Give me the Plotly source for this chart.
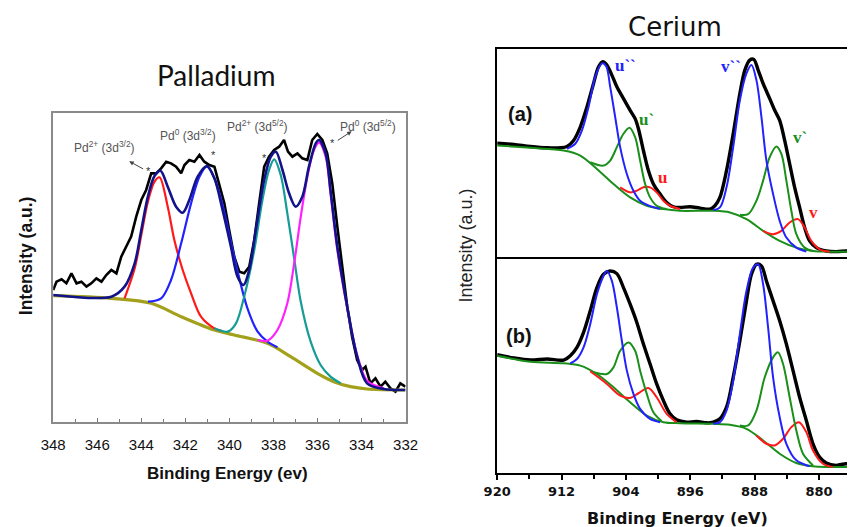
import plotly.graph_objects as go

# ---------------- Palladium (binding energy eV, intensity a.u.) ----------------
pd_raw_x = [348.00, 347.85, 347.62, 347.40, 347.17, 346.94, 346.72, 346.49, 346.27, 346.04,
            345.81, 345.59, 345.36, 345.13, 344.91, 344.68, 344.46, 344.23, 344.00, 343.78,
            343.55, 343.32, 343.10, 342.87, 342.65, 342.42, 342.19, 342.04, 341.82, 341.59,
            341.36, 341.14, 340.91, 340.68, 340.46, 340.23, 340.01, 339.78, 339.55, 339.33,
            339.10, 338.87, 338.65, 338.42, 338.20, 337.97, 337.74, 337.52, 337.34, 337.14,
            336.91, 336.69, 336.46, 336.24, 336.01, 335.78, 335.56, 335.33, 335.10, 334.88,
            334.65, 334.43, 334.20, 333.97, 333.82, 333.60, 333.37, 333.14, 332.92, 332.69,
            332.46, 332.24, 332.01]
pd_raw_y = [396, 421, 428, 416, 446, 416, 421, 406, 416, 431,
            421, 441, 456, 446, 496, 526, 556, 616, 666, 696,
            746, 746, 761, 781, 776, 766, 746, 771, 786, 781,
            801, 781, 771, 766, 716, 656, 576, 496, 451, 446,
            466, 546, 656, 766, 796, 816, 826, 846, 811, 796,
            806, 791, 786, 846, 864, 846, 806, 716, 586, 466,
            346, 256, 186, 156, 166, 116, 131, 106, 121, 101,
            91, 116, 106]

pd_env_x = [348.00, 345.36, 344.76, 344.30, 344.00, 343.70, 343.40, 343.13, 342.80, 342.42,
            342.12, 341.82, 341.44, 341.02, 340.68, 340.31, 339.93, 339.63, 339.36, 339.10,
            338.80, 338.42, 338.12, 337.89, 337.59, 337.29, 336.99, 336.69, 336.39, 336.08,
            335.93, 335.63, 335.41, 335.10, 334.65, 334.20, 333.75, 332.99, 332.01]
pd_env_y = [381, 376, 406, 476, 576, 676, 738, 754, 706, 646,
            628, 666, 736, 768, 731, 636, 526, 436, 411, 456,
            576, 726, 796, 811, 756, 686, 646, 676, 766, 836,
            846, 806, 696, 526, 346, 196, 116, 99, 96]

pd_red_x = [344.76, 344.30, 344.00, 343.70, 343.40, 343.17, 342.80, 342.50, 342.12, 341.74,
            341.29, 340.68, 340.38]
pd_red_y = [371, 461, 561, 661, 721, 734, 646, 546, 456, 386, 316, 281, 274]

pd_blue_x = [343.70, 343.10, 342.65, 342.19, 341.74, 341.36, 341.02, 340.68, 340.31, 339.93,
             339.55, 339.18, 338.72, 338.27, 337.82]
pd_blue_y = [361, 371, 426, 536, 656, 736, 766, 731, 651, 541, 431, 341, 271, 241, 224]

pd_teal_x = [340.68, 340.08, 339.70, 339.33, 338.87, 338.50, 338.20, 337.97, 337.67, 337.37,
             337.06, 336.76, 336.31, 335.86, 335.41, 334.95]
pd_teal_y = [281, 271, 296, 376, 516, 666, 756, 788, 741, 626, 491, 361, 241, 171, 136, 116]

pd_mag_x = [338.72, 338.27, 337.82, 337.37, 337.06, 336.76, 336.46, 336.16, 335.93, 335.63,
            335.41, 335.10, 334.65, 334.20, 333.75, 332.99]
pd_mag_y = [246, 244, 276, 356, 476, 616, 736, 816, 838, 796, 686, 516, 341, 201, 124, 101]

pd_bg_x = [348.00, 345.36, 343.55, 342.19, 340.68, 339.78, 338.27, 337.22, 336.01, 335.26,
           334.50, 333.75, 332.01]
pd_bg_y = [379, 371, 356, 316, 276, 261, 236, 196, 146, 121, 106, 99, 96]

pd_ticks = [348, 346, 344, 342, 340, 338, 336, 334, 332]
pd_labels = ["Pd<sup>2+</sup> (3d<sup>3/2</sup>)", "Pd<sup>0</sup> (3d<sup>3/2</sup>)",
             "Pd<sup>2+</sup> (3d<sup>5/2</sup>)", "Pd<sup>0</sup> (3d<sup>5/2</sup>)"]
pd_label_x = [345.68, 341.88, 338.71, 333.73]
pd_label_y = [825, 861, 888, 888]
pd_star_x = [343.69, 340.70, 338.39, 335.32]
pd_star_y = [753, 801, 792, 837]

# ---------------- Cerium (a) ----------------
ca_raw_x = [920.00, 917.93, 915.87, 913.80, 912.15, 911.32, 910.50, 909.67, 908.84, 908.02,
            907.40, 906.86, 906.36, 905.74, 905.12, 904.30, 903.47, 902.85, 902.44, 901.82,
            901.20, 900.58, 899.75, 898.93, 898.10, 897.27, 896.03, 894.79, 893.55, 892.93,
            892.31, 891.49, 890.66, 889.83, 889.21, 888.60, 888.10, 887.56, 886.94, 886.12,
            885.50, 884.88, 884.26, 883.64, 883.02, 882.40, 881.78, 881.16, 880.33, 879.09,
            877.85, 876.61, 875.58]
ca_raw_y = [340, 336, 330, 326, 326, 330, 348, 388, 448, 518,
            568, 583, 573, 543, 508, 473, 438, 413, 383, 318,
            258, 218, 188, 163, 150, 148, 150, 146, 143, 153,
            178, 258, 368, 488, 558, 588, 590, 558, 518, 473,
            438, 408, 348, 278, 208, 148, 88, 48, 28, 18,
            16, 18, 18]

ca_blue1_x = [911.32, 910.29, 909.46, 908.64, 907.81, 906.98, 906.45, 905.95, 905.33, 904.71,
              903.88, 903.06, 902.23, 900.99, 899.75]
ca_blue1_y = [323, 338, 378, 448, 538, 578, 570, 508, 418, 328, 248, 198, 168, 152, 144]
ca_blue2_x = [893.14, 892.31, 891.49, 890.66, 889.83, 889.01, 888.39, 887.77, 887.15, 886.53,
              885.70, 884.88, 884.05, 882.81, 881.57]
ca_blue2_y = [140, 148, 208, 328, 468, 548, 573, 528, 418, 288, 188, 108, 58, 28, 16]

ca_base_x = [920.00, 915.87, 911.74, 909.67, 907.60, 905.54, 903.47, 901.40, 899.34, 897.27,
             893.14, 891.07, 889.01, 886.94, 884.88, 882.81, 880.74, 878.68, 875.58]
ca_base_y = [333, 326, 318, 303, 263, 218, 178, 153, 143, 138, 138, 133, 113, 78, 48, 28, 18, 16, 16]

ca_green1_x = [908.43, 906.78, 905.95, 905.12, 904.30, 903.55, 902.85, 902.23, 901.61, 900.99,
               900.17, 898.93]
ca_green1_y = [283, 273, 288, 328, 368, 386, 358, 288, 218, 178, 153, 143]
ca_green2_x = [889.83, 888.80, 887.77, 886.94, 886.12, 885.29, 884.67, 884.05, 883.43, 882.81,
               881.78, 880.74]
ca_green2_y = [126, 128, 168, 228, 298, 330, 308, 228, 138, 68, 28, 18]

ca_red1_x = [904.71, 903.47, 902.64, 901.82, 900.99, 900.17, 899.34, 898.51, 897.27]
ca_red1_y = [208, 193, 198, 208, 208, 193, 168, 153, 143]
ca_red2_x = [886.94, 885.70, 884.67, 883.64, 882.60, 881.78, 880.95, 879.92, 878.68]
ca_red2_y = [78, 68, 78, 103, 113, 88, 48, 23, 16]

# ---------------- Cerium (b) ----------------
cb_raw_x = [920.00, 917.93, 915.87, 913.80, 911.74, 910.91, 910.08, 909.26, 908.43, 907.60,
            906.78, 905.95, 905.12, 904.30, 903.47, 902.64, 901.82, 900.99, 900.17, 899.34,
            898.51, 897.69, 896.45, 895.21, 893.97, 893.14, 892.31, 891.49, 890.66, 889.83,
            889.01, 888.39, 887.77, 887.15, 886.53, 885.70, 884.88, 884.05, 883.22, 882.40,
            881.57, 880.74, 879.92, 879.09, 877.85, 876.61, 875.58]
cb_raw_y = [356, 346, 340, 343, 340, 353, 378, 423, 488, 558,
            598, 608, 600, 558, 508, 453, 388, 328, 268, 218,
            178, 160, 153, 155, 151, 153, 163, 198, 288, 398,
            518, 598, 628, 623, 578, 518, 458, 388, 308, 228,
            158, 88, 48, 30, 23, 28, 23]

cb_blue1_x = [910.91, 910.08, 909.26, 908.43, 907.60, 906.78, 906.36, 905.74, 905.12, 904.50,
              903.88, 903.06, 902.23, 900.99, 899.75]
cb_blue1_y = [330, 343, 378, 448, 538, 593, 608, 578, 498, 398, 308, 238, 193, 163, 153]
cb_blue2_x = [893.14, 892.31, 891.49, 890.66, 889.83, 889.01, 888.18, 887.56, 886.94, 886.32,
              885.70, 884.88, 884.05, 882.81, 881.16]
cb_blue2_y = [148, 153, 188, 278, 418, 548, 618, 628, 568, 438, 288, 168, 88, 38, 20]

cb_base_x = [920.00, 915.87, 911.74, 909.67, 907.60, 905.54, 903.47, 901.40, 899.34, 897.27,
             893.14, 891.07, 889.01, 886.94, 884.88, 882.81, 880.74, 878.68, 875.58]
cb_base_y = [353, 335, 330, 323, 298, 258, 213, 173, 153, 150, 148, 145, 133, 98, 58, 30, 20, 18, 18]

cb_green1_x = [908.02, 906.36, 905.54, 904.71, 903.68, 902.85, 902.23, 901.40, 900.58, 899.55]
cb_green1_y = [303, 298, 318, 368, 393, 368, 308, 238, 183, 156]
cb_green2_x = [889.83, 888.80, 887.77, 886.74, 885.70, 885.08, 884.46, 883.64, 882.81, 881.98,
               880.74]
cb_green2_y = [143, 143, 188, 288, 348, 363, 328, 228, 128, 58, 23]

cb_red1_x = [908.43, 906.36, 904.71, 903.47, 902.44, 901.20, 900.17, 898.93, 897.69]
cb_red1_y = [306, 268, 233, 226, 240, 256, 228, 178, 153]
cb_red2_x = [887.77, 886.53, 885.50, 884.46, 883.43, 882.48, 881.57, 880.74, 879.50, 878.26]
cb_red2_y = [113, 88, 83, 103, 138, 153, 123, 68, 28, 18]

ce_ticks = [920, 912, 904, 896, 888, 880]
ce_peak_names = ["u``", "u`", "u", "v``", "v`", "v"]
ce_peak_x = [904.1, 901.4, 899.4, 890.9, 882.4, 880.7]
ce_peak_y = [573, 410, 238, 568, 358, 133]

# ---------------- colours ----------------
C_NAVY = "#12128a"
C_RED = "#ff1a1a"
C_BLUE = "#2222ff"
C_TEAL = "#159c96"
C_MAG = "#ff22ff"
C_OLIVE = "#a3a11c"
C_GREEN = "#1a8f1a"
peak_colors = [C_BLUE, C_GREEN, C_RED, C_BLUE, C_GREEN, C_RED]

fig = go.Figure()


def add(x, y, color, width, xa, ya, shape="spline"):
    fig.add_trace(go.Scatter(x=x, y=y, mode="lines", xaxis=xa, yaxis=ya,
                             line=dict(color=color, width=width, shape=shape,
                                       smoothing=0.9 if shape == "spline" else None),
                             hoverinfo="skip", showlegend=False))


# Palladium
add(pd_raw_x, pd_raw_y, "black", 2.6, "x", "y", "linear")
add(pd_bg_x, pd_bg_y, C_OLIVE, 3.2, "x", "y")
add(pd_red_x, pd_red_y, C_RED, 2.2, "x", "y")
add(pd_blue_x, pd_blue_y, C_BLUE, 2.2, "x", "y")
add(pd_teal_x, pd_teal_y, C_TEAL, 2.2, "x", "y")
add(pd_mag_x, pd_mag_y, C_MAG, 2.2, "x", "y")
add(pd_env_x, pd_env_y, C_NAVY, 2.6, "x", "y")

# Cerium (a)
add(ca_raw_x, ca_raw_y, "black", 3.4, "x2", "y2")
add(ca_base_x, ca_base_y, C_GREEN, 2, "x2", "y2")
add(ca_red1_x, ca_red1_y, C_RED, 2, "x2", "y2")
add(ca_red2_x, ca_red2_y, C_RED, 2, "x2", "y2")
add(ca_green1_x, ca_green1_y, C_GREEN, 2, "x2", "y2")
add(ca_green2_x, ca_green2_y, C_GREEN, 2, "x2", "y2")
add(ca_blue1_x, ca_blue1_y, C_BLUE, 2, "x2", "y2")
add(ca_blue2_x, ca_blue2_y, C_BLUE, 2, "x2", "y2")

# Cerium (b)
add(cb_raw_x, cb_raw_y, "black", 3.4, "x3", "y3")
add(cb_base_x, cb_base_y, C_GREEN, 2, "x3", "y3")
add(cb_red1_x, cb_red1_y, C_RED, 2, "x3", "y3")
add(cb_red2_x, cb_red2_y, C_RED, 2, "x3", "y3")
add(cb_green1_x, cb_green1_y, C_GREEN, 2, "x3", "y3")
add(cb_green2_x, cb_green2_y, C_GREEN, 2, "x3", "y3")
add(cb_blue1_x, cb_blue1_y, C_BLUE, 2, "x3", "y3")
add(cb_blue2_x, cb_blue2_y, C_BLUE, 2, "x3", "y3")

W, H = 855, 527
OFF = 8          # page body margin
XS, X0 = 0.97, 13.0   # observed horizontal mapping of the screenshot


def fxp(px):
    """target screenshot x -> figure pixel"""
    return (px - X0) / XS - OFF


def fx(px):
    return fxp(px) / W


def fy(py):
    return 1 - (py - OFF) / H


PD_X = [fx(52), fx(405)]
PD_Y = [fy(422), fy(113)]
CE_X = [fx(496.7), 1.0]
CA_Y = [fy(257), fy(49)]
CB_Y = [fy(473), fy(257)]
ce_ppu = (fxp(819) - fxp(496.7)) / 40.0
CE_RIGHT = 920 - (W - fxp(496.7)) / ce_ppu

annotations = []
for t, x, y in zip(pd_labels, pd_label_x, pd_label_y):
    annotations.append(dict(xref="x", yref="y", x=x, y=y, text=t, showarrow=False,
                            font=dict(family="Liberation Sans, Arial", size=12, color="#555555")))
for x, y in zip(pd_star_x, pd_star_y):
    annotations.append(dict(xref="x", yref="y", x=x, y=y, text="*", showarrow=False,
                            font=dict(family="Liberation Sans, Arial", size=11, color="#333333")))
annotations.append(dict(xref="x", yref="y", axref="x", ayref="y", x=344.55, y=782,
                        ax=343.85, ay=757, text="", showarrow=True, arrowhead=2,
                        arrowsize=0.9, arrowwidth=1, arrowcolor="#444444"))
annotations.append(dict(xref="x", yref="y", axref="x", ayref="y", x=334.45, y=872,
                        ax=335.15, ay=842, text="", showarrow=True, arrowhead=2,
                        arrowsize=0.9, arrowwidth=1, arrowcolor="#444444"))

for t, x, y, c in zip(ce_peak_names, ce_peak_x, ce_peak_y, peak_colors):
    annotations.append(dict(xref="x2", yref="y2", x=x, y=y, text="<b>" + t + "</b>",
                            showarrow=False,
                            font=dict(family="Liberation Serif, Times New Roman", size=17, color=c)))
annotations.append(dict(xref="x2", yref="y2", x=917.1, y=426, text="<b>(a)</b>", showarrow=False,
                        font=dict(family="Liberation Sans, Arial", size=20, color="#111111")))
annotations.append(dict(xref="x3", yref="y3", x=917.3, y=413, text="<b>(b)</b>", showarrow=False,
                        font=dict(family="Liberation Sans, Arial", size=20, color="#111111")))


def ptext(px, py, text, font, angle=0):
    return dict(xref="paper", yref="paper", x=fx(px), y=fy(py), text=text, showarrow=False,
                xanchor="center", yanchor="middle", textangle=angle, font=font)


annotations += [
    ptext(215, 75, "Palladium", dict(family="Lato, Open Sans", size=28, color="#111111")),
    ptext(675, 27, "Cerium", dict(family="DejaVu Sans", size=26, color="#111111")),
    ptext(227, 473, "<b>Binding Energy (ev)</b>",
          dict(family="Liberation Sans, Arial", size=17, color="#111111")),
    ptext(677, 518, "<b>Binding Energy (eV)</b>",
          dict(family="DejaVu Sans", size=16, color="#111111")),
    ptext(25, 256, "<b>Intensity (a.u.)</b>",
          dict(family="Liberation Sans, Arial", size=17.5, color="#111111"), -90),
    ptext(465, 246, "Intensity (a.u.)",
          dict(family="Liberation Sans, Arial", size=18, color="#222222"), -90),
]

fig.update_layout(
    width=W, height=H, margin=dict(l=0, r=0, t=0, b=0),
    paper_bgcolor="white", plot_bgcolor="white",
    showlegend=False, annotations=annotations,
    xaxis=dict(domain=PD_X, anchor="y", range=[348, 332], tickvals=pd_ticks,
               ticks="inside", ticklen=4, tickcolor="#777777", showgrid=False, zeroline=False,
               showline=True, linecolor="#8a8a8a", linewidth=1.5, mirror=True,
               minor=dict(dtick=1, ticks="inside", ticklen=3, tickcolor="#777777"),
               ticklabelstandoff=8,
               tickfont=dict(family="Liberation Sans, Arial", size=15, color="#111111")),
    yaxis=dict(domain=PD_Y, anchor="x", range=[0, 927], showticklabels=False, ticks="",
               showgrid=False, zeroline=False, showline=True, linecolor="#8a8a8a",
               linewidth=1.5, mirror=True),
    xaxis2=dict(domain=CE_X, anchor="y2", range=[920, CE_RIGHT], showticklabels=False, ticks="",
                showgrid=False, zeroline=False, showline=True, linecolor="black",
                linewidth=1.5, mirror=True),
    yaxis2=dict(domain=CA_Y, anchor="x2", range=[0, 621], showticklabels=False, ticks="",
                showgrid=False, zeroline=False, showline=True, linecolor="black", linewidth=2),
    xaxis3=dict(domain=CE_X, anchor="y3", range=[920, CE_RIGHT], tickvals=ce_ticks,
                ticks="outside", ticklen=5, tickwidth=1.5, tickcolor="black",
                minor=dict(tickvals=[916, 908, 900, 892, 884, 876], ticks="outside", ticklen=4,
                           tickcolor="black"),
                showgrid=False, zeroline=False, showline=True, linecolor="black", linewidth=2,
                tickfont=dict(family="DejaVu Sans", size=13, color="#111111", weight="bold")),
    yaxis3=dict(domain=CB_Y, anchor="x3", range=[0, 650], showticklabels=False, ticks="",
                showgrid=False, zeroline=False, showline=True, linecolor="black", linewidth=2),
)

fig.write_html("out.html")
